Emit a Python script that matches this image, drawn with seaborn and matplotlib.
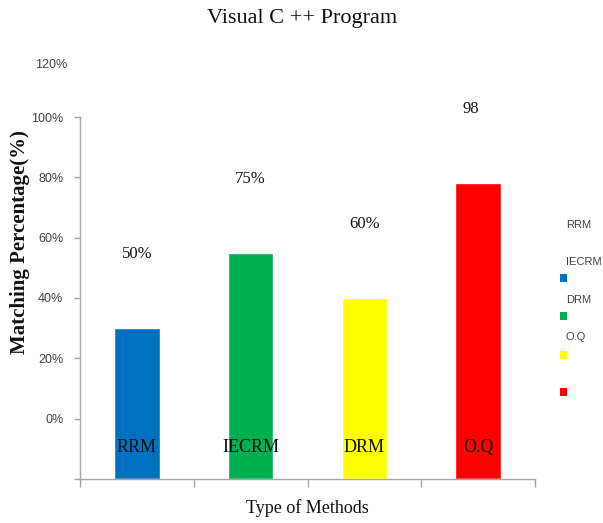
import matplotlib
matplotlib.use("Agg")
import matplotlib.pyplot as plt
import seaborn as sns
import pandas as pd
from matplotlib.patches import Rectangle

# ---- data ----
methods = ["RRM", "IECRM", "DRM", "O.Q"]
matching = [50, 75, 60, 98]
value_labels = ["50%", "75%", "60%", "98"]
colors = ["#0070C0", "#00B050", "#FFFF00", "#FF0000"]
ytick_pos = [0, 20, 40, 60, 80, 100, 120]
ytick_labels = ["", "0%", "20%", "40%", "60%", "80%", "100%"]
extra_label = "120%"
title = "Visual C ++ Program"
xlabel = "Type of Methods"
ylabel = "Matching Percentage(%)"

sns.set_theme(style="white")
plt.rcParams["font.family"] = ["Liberation Serif", "DejaVu Serif"]

df = pd.DataFrame({"method": methods, "value": matching})

W, H = 603, 523
fig = plt.figure(figsize=(W / 100, H / 100), dpi=100)
ax = fig.add_axes([80 / W, 1 - 479 / H, (535 - 80) / W, (479 - 117) / H])

sns.barplot(data=df, x="method", y="value", hue="method", palette=colors,
            width=0.4, saturation=1, legend=False, ax=ax)

ax.set_xlim(-0.5, len(methods) - 0.5)
ax.set_ylim(0, 120)

# spines
for s in ["top", "right"]:
    ax.spines[s].set_visible(False)
for s in ["left", "bottom"]:
    ax.spines[s].set_color("#A6A6A6")
    ax.spines[s].set_linewidth(1.0)

# y ticks
ax.set_yticks(ytick_pos)
ax.set_yticklabels(ytick_labels, family=["Liberation Sans", "DejaVu Sans"],
                   fontsize=9, color="#404040")
ax.tick_params(axis="y", direction="out", length=4, width=1, color="#A6A6A6",
               pad=8, left=True)

# x ticks: boundaries only
ax.set_xticks([])
ax.set_xticks([i - 0.5 for i in range(len(methods) + 1)], minor=True)
ax.tick_params(axis="x", which="minor", direction="out", length=6, width=1,
               color="#A6A6A6", bottom=True, labelbottom=False)
ax.set_xlabel("")
ax.set_ylabel("")

# labels inside bars
for i, m in enumerate(methods):
    ax.text(i, 10.6, m, ha="center", va="center", fontsize=13, color="#111111")

# value labels above
for i, (v, lab) in enumerate(zip(matching, value_labels)):
    ax.text(i - 0.06 * (i == 3), v + 24.5, lab, ha="center", va="center",
            fontsize=12, color="#111111")

# texts
fig.text(302 / W, 1 - 18 / H, title, ha="center", va="center", fontsize=16,
         color="#111111")
fig.text(307 / W, 1 - 508 / H, xlabel, ha="center", va="center", fontsize=13,
         color="#111111")
fig.text(20 / W, 1 - 242 / H, ylabel, ha="center", va="center", fontsize=15,
         fontweight="bold", rotation=90, color="#111111")
fig.text(67 / W, 1 - 65 / H, extra_label, ha="right", va="center",
         fontsize=9, color="#404040", family=["Liberation Sans", "DejaVu Sans"])

# legend (labels offset above the colour squares, as in the reference)
label_y = [225, 262, 300, 337]
square_y = [278, 316, 355, 392]
for m, c, ly, sy in zip(methods, colors, label_y, square_y):
    fig.text(566 / W, 1 - ly / H, m, ha="left", va="center", fontsize=8,
             color="#404040", family=["Liberation Sans", "DejaVu Sans"])
    fig.patches.append(Rectangle(((563 - 3.5) / W, 1 - (sy + 4) / H), 7 / W, 8 / H,
                                 transform=fig.transFigure, facecolor=c,
                                 edgecolor="none"))

fig.savefig("out.png", dpi=100)
